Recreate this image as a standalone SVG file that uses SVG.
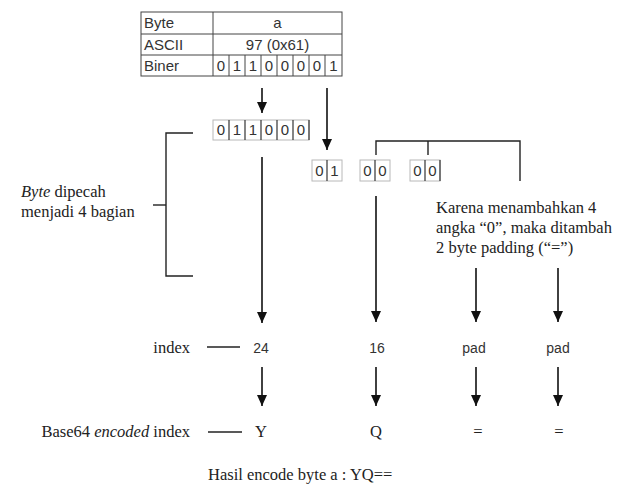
<svg xmlns="http://www.w3.org/2000/svg" width="627" height="485" viewBox="0 0 627 485">
<defs>
<marker id="ah" markerUnits="userSpaceOnUse" markerWidth="12" markerHeight="10" refX="11" refY="5" orient="auto" viewBox="0 0 12 10">
<path d="M0,0 L11,5 L0,10 Z" fill="#111"/>
</marker>
<style>
.serif{font-family:"Liberation Serif","Times New Roman",serif;font-size:16.5px;fill:#222}
.sans{font-family:"Liberation Sans",Arial,sans-serif;font-size:14px;fill:#333}
.tbl{font-family:"Liberation Sans",Arial,sans-serif;font-size:15px;fill:#333}
.cell{fill:#fff;stroke:#b8b8b8;stroke-width:1}
.div{stroke:#333;stroke-width:1.2}
.ln{stroke:#222;stroke-width:1.4;fill:none}
.arr{stroke:#111;stroke-width:1.6;fill:none}
.grid{stroke:#444;stroke-width:1;fill:none}
</style>
</defs>
<rect width="627" height="485" fill="#fff"/>

<g id="table">
<rect x="141" y="12" width="201" height="64" class="grid" fill="#fff"/>
<line x1="141" y1="34" x2="342" y2="34" class="grid"/>
<line x1="141" y1="55" x2="342" y2="55" class="grid"/>
<line x1="213" y1="12" x2="213" y2="76" class="grid"/>
<text x="144" y="28" class="tbl">Byte</text>
<text x="144" y="50" class="tbl">ASCII</text>
<text x="144" y="71" class="tbl">Biner</text>
<text x="277.5" y="28" class="tbl" text-anchor="middle">a</text>
<text x="277.5" y="50" class="tbl" text-anchor="middle">97 (0x61)</text>
<g class="tbl" text-anchor="middle">
<line x1="229" y1="55" x2="229" y2="76" class="grid"/>
<line x1="245" y1="55" x2="245" y2="76" class="grid"/>
<line x1="261" y1="55" x2="261" y2="76" class="grid"/>
<line x1="277" y1="55" x2="277" y2="76" class="grid"/>
<line x1="293" y1="55" x2="293" y2="76" class="grid"/>
<line x1="309" y1="55" x2="309" y2="76" class="grid"/>
<line x1="325" y1="55" x2="325" y2="76" class="grid"/>
<text x="221" y="71">0</text><text x="237" y="71">1</text><text x="253" y="71">1</text><text x="269" y="71">0</text>
<text x="285" y="71">0</text><text x="301" y="71">0</text><text x="317" y="71">0</text><text x="333.5" y="71">1</text>
</g>
</g>

<g id="bits6">
<rect x="213" y="120" width="96" height="20" class="cell"/>
<line x1="229" y1="120" x2="229" y2="140" class="div"/>
<line x1="245" y1="120" x2="245" y2="140" class="div"/>
<line x1="261" y1="120" x2="261" y2="140" class="div"/>
<line x1="277" y1="120" x2="277" y2="140" class="div"/>
<line x1="293" y1="120" x2="293" y2="140" class="div"/>
<line x1="309" y1="120" x2="309" y2="140" class="div"/>
<g class="tbl" text-anchor="middle">
<text x="221" y="135">0</text><text x="237" y="135">1</text><text x="253" y="135">1</text>
<text x="269" y="135">0</text><text x="285" y="135">0</text><text x="301" y="135">0</text>
</g>
</g>

<g id="bits01">
<rect x="312" y="160" width="30" height="21" class="cell"/>
<line x1="327" y1="160" x2="327" y2="181" class="div"/>
<g class="tbl" text-anchor="middle"><text x="319.5" y="176">0</text><text x="334.5" y="176">1</text></g>
</g>
<g id="bits00a">
<rect x="360" y="160" width="30" height="21" class="cell"/>
<line x1="375" y1="160" x2="375" y2="181" class="div"/>
<g class="tbl" text-anchor="middle"><text x="367.5" y="176">0</text><text x="382.5" y="176">0</text></g>
</g>
<g id="bits00b">
<rect x="410" y="160" width="30" height="21" class="cell"/>
<line x1="425" y1="160" x2="425" y2="181" class="div"/>
<line x1="440" y1="160" x2="440" y2="181" class="div"/>
<g class="tbl" text-anchor="middle"><text x="417.5" y="176">0</text><text x="432.5" y="176">0</text></g>
</g>

<g id="split-label">
<text x="21" y="197" class="serif"><tspan font-style="italic">Byte</tspan> dipecah</text>
<text x="21" y="217" class="serif">menjadi 4 bagian</text>
</g>

<g id="pad-note">
<text x="436" y="213" class="serif">Karena menambahkan 4</text>
<text x="436" y="233" class="serif">angka “0”, maka ditambah</text>
<text x="436" y="253" class="serif">2 byte padding (“=”)</text>
</g>

<g id="index-row">
<text x="190" y="353" class="serif" text-anchor="end">index</text>
<text x="261" y="353" class="sans" text-anchor="middle">24</text>
<text x="377" y="353" class="sans" text-anchor="middle">16</text>
<text x="474" y="353" class="sans" text-anchor="middle">pad</text>
<text x="558" y="353" class="sans" text-anchor="middle">pad</text>
</g>

<g id="encoded-row">
<text x="190" y="437" class="serif" text-anchor="end">Base64 <tspan font-style="italic">encoded</tspan> index</text>
<text x="261" y="437" class="serif" text-anchor="middle">Y</text>
<text x="376" y="437" class="serif" text-anchor="middle">Q</text>
<text x="478" y="437" class="serif" text-anchor="middle">=</text>
<text x="559" y="437" class="serif" text-anchor="middle">=</text>
</g>

<g id="result">
<text x="208" y="480" class="serif">Hasil encode byte a : YQ==</text>
</g>

<g id="connectors">
<line x1="262" y1="88" x2="262" y2="113" class="arr" marker-end="url(#ah)"/>
<line x1="327" y1="88" x2="327" y2="150" class="arr" marker-end="url(#ah)"/>
<polyline points="193,133 166,133 166,276 193,276" class="ln"/>
<line x1="153" y1="205" x2="166" y2="205" class="ln"/>
<polyline points="376,155 376,141 520,141 520,181" class="ln"/>
<line x1="428" y1="141" x2="428" y2="155" class="ln"/>
<line x1="262" y1="157" x2="262" y2="323" class="arr" marker-end="url(#ah)"/>
<line x1="376" y1="196" x2="376" y2="322" class="arr" marker-end="url(#ah)"/>
<line x1="476" y1="268" x2="476" y2="322" class="arr" marker-end="url(#ah)"/>
<line x1="558" y1="268" x2="558" y2="322" class="arr" marker-end="url(#ah)"/>
<line x1="207" y1="347" x2="240" y2="347" class="ln"/>
<line x1="262" y1="367" x2="262" y2="406" class="arr" marker-end="url(#ah)"/>
<line x1="376" y1="367" x2="376" y2="406" class="arr" marker-end="url(#ah)"/>
<line x1="476" y1="367" x2="476" y2="406" class="arr" marker-end="url(#ah)"/>
<line x1="558" y1="367" x2="558" y2="406" class="arr" marker-end="url(#ah)"/>
<line x1="208" y1="432" x2="242" y2="432" class="ln"/>
</g>
</svg>
